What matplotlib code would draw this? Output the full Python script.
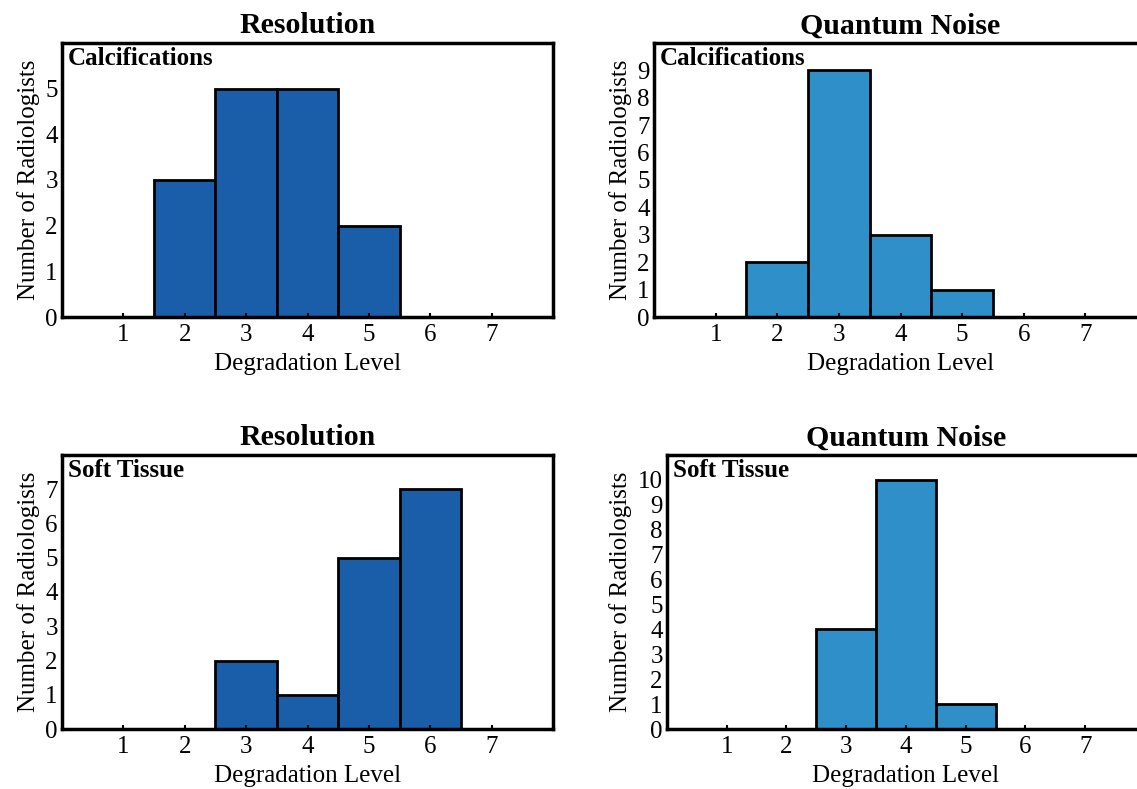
import matplotlib
matplotlib.use('Agg')
import matplotlib.pyplot as plt

plt.rcParams['font.family'] = ['Liberation Serif', 'DejaVu Serif']

levels = [1, 2, 3, 4, 5, 6, 7]

# Calcifications
res_calc = [0, 3, 5, 5, 2, 0, 0]
noise_calc = [0, 2, 9, 3, 1, 0, 0]
# Soft Tissue
res_soft = [0, 0, 2, 1, 5, 7, 0]
noise_soft = [0, 0, 4, 10, 1, 0, 0]

dark_blue = '#1a5eaa'
light_blue = '#2e8fc9'

W, H = 1137, 789
fig = plt.figure(figsize=(W / 100, H / 100), dpi=100)


def make_axes(left, top, right, bottom):
    return fig.add_axes([left / W, 1 - bottom / H, (right - left) / W, (bottom - top) / H])


def draw_hist(ax, values, color, title, label, ymax, yticks):
    ax.bar(levels, values, width=1.0, color=color, edgecolor='black', linewidth=2)
    ax.set_xlim(0, 8)
    ax.set_ylim(0, ymax)
    ax.set_xticks(levels)
    ax.set_yticks(yticks)
    ax.tick_params(axis='x', direction='in', length=3, width=1.5, labelsize=18, pad=5)
    ax.tick_params(axis='y', direction='in', length=0, labelsize=18, pad=3)
    for s in ax.spines.values():
        s.set_linewidth(2.5)
    ax.set_title(title, fontsize=21.5, fontweight='bold', pad=7)
    ax.set_xlabel('Degradation Level', fontsize=18, labelpad=5)
    ax.set_ylabel('Number of Radiologists', fontsize=18, labelpad=4)
    ax.text(0.012, 0.985, label, transform=ax.transAxes, ha='left', va='top',
            fontsize=18, fontweight='bold')


ax1 = make_axes(62, 43, 553, 317)
draw_hist(ax1, res_calc, dark_blue, 'Resolution', 'Calcifications', 6, range(0, 6))

ax2 = make_axes(654, 43, 1147, 317)
draw_hist(ax2, noise_calc, light_blue, 'Quantum Noise', 'Calcifications', 10, range(0, 10))

ax3 = make_axes(62, 455, 553, 729)
draw_hist(ax3, res_soft, dark_blue, 'Resolution', 'Soft Tissue', 8, range(0, 8))

ax4 = make_axes(667, 455, 1145, 729)
draw_hist(ax4, noise_soft, light_blue, 'Quantum Noise', 'Soft Tissue', 11, range(0, 11))

fig.savefig('out.png', dpi=100)
